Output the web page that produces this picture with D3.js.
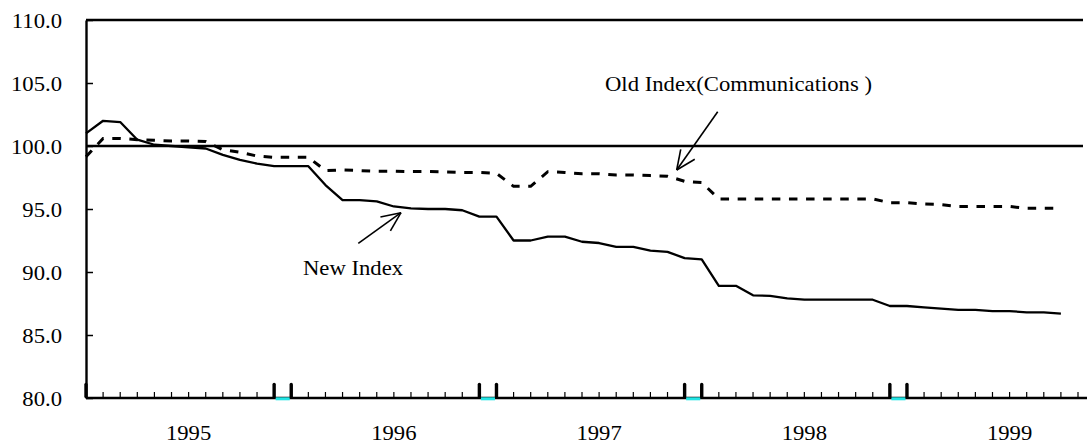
<!DOCTYPE html>
<html><head><meta charset="utf-8">
<script src="https://cdn.jsdelivr.net/npm/d3@7/dist/d3.min.js"></script>
<style>
html,body{margin:0;padding:0;background:#fff;}
svg{display:block;}
</style></head>
<body><svg id="c" width="1088" height="444"></svg>
<script>
// ---- data (monthly index values) ----
const newIndex = [101.0,102.0,101.9,100.5,100.1,100.0,99.9,99.8,99.3,98.9,98.6,98.4,98.4,98.4,96.9,95.7,95.7,95.6,95.2,95.05,95.0,95.0,94.9,94.4,94.4,92.5,92.5,92.8,92.8,92.4,92.3,92.0,92.0,91.7,91.6,91.1,91.0,88.9,88.9,88.15,88.1,87.9,87.8,87.8,87.8,87.8,87.8,87.3,87.3,87.2,87.1,87.0,87.0,86.9,86.9,86.8,86.8,86.7];
const oldIndex = [99.15,100.6,100.6,100.5,100.45,100.4,100.4,100.35,99.7,99.5,99.2,99.1,99.1,99.1,98.05,98.1,98.05,98.0,98.0,97.97,97.97,97.94,97.9,97.9,97.83,96.8,96.8,97.96,97.9,97.8,97.8,97.7,97.7,97.65,97.6,97.2,97.1,95.8,95.8,95.8,95.8,95.8,95.8,95.8,95.8,95.8,95.8,95.5,95.5,95.4,95.35,95.2,95.2,95.2,95.2,95.05,95.05,95.05];
const yearLabels = ["1995","1996","1997","1998","1999"];
const yTicks = [80,85,90,95,100,105,110];
const baseline = 100;
const seriesNames = ["New Index","Old Index(Communications )"];

const svg = d3.select("#c");
const nCat = 58; // category slots on the axis
const x = d3.scaleLinear().domain([0, nCat]).range([86, 1078]);
const y = d3.scaleLinear().domain([80, 110]).range([398, 20]);
const FS = 21, SX = 1.08;
const FONT = "'Liberation Serif', 'Times New Roman', Times, serif";

function label(g, px, py, txt, anchor){
  g.append("text").attr("transform",`translate(${px},${py}) scale(${SX},1)`)
   .attr("text-anchor",anchor).attr("font-family",FONT).attr("font-size",FS)
   .attr("fill","#000").text(txt);
}

// top border
svg.append("line").attr("x1",x(0)).attr("x2",1083).attr("y1",y(110)).attr("y2",y(110))
  .attr("stroke","#000").attr("stroke-width",2.4);

// y axis
const yAxis = svg.append("g").attr("transform",`translate(${x(0)},0)`)
  .call(d3.axisLeft(y).tickValues(yTicks).tickSizeInner(-7).tickSizeOuter(0).tickFormat(d3.format(".1f")));
yAxis.select(".domain").attr("stroke-width",2.4);
yAxis.selectAll(".tick line").attr("stroke-width",1.5);
yAxis.selectAll(".tick text").remove();
yTicks.forEach(v => label(svg, 62, y(v)+8, d3.format(".1f")(v), "end"));

// baseline 100
svg.append("line").attr("x1",x(0)).attr("x2",1083).attr("y1",y(baseline)).attr("y2",y(baseline))
  .attr("stroke","#000").attr("stroke-width",2.4);

// x axis
const xb = y(80);
svg.append("line").attr("x1",x(0)).attr("x2",1087).attr("y1",xb).attr("y2",xb)
  .attr("stroke","#000").attr("stroke-width",2.4);
const cats = d3.range(0, nCat+1);
const isThick = i => i===0 || (i>0 && (i%12===11 || i%12===0) && i<nCat);
cats.filter(i => i%12===11 && i<nCat).forEach(i => {
  svg.append("line").attr("x1",x(i)+1.5).attr("x2",x(i+1)-1.5).attr("y1",xb+0.8).attr("y2",xb+0.8)
    .attr("stroke","#22e5e5").attr("stroke-width",3);
});
cats.filter(i => i>0 && !isThick(i)).forEach(i => {
  svg.append("line").attr("x1",x(i)).attr("x2",x(i)).attr("y1",xb).attr("y2",xb-6)
    .attr("stroke","#000").attr("stroke-width",1.2);
});
cats.filter(isThick).forEach(i => {
  svg.append("line").attr("x1",x(i)).attr("x2",x(i)).attr("y1",xb-1.5).attr("y2",xb-13.5)
    .attr("stroke","#000").attr("stroke-width",3.4).attr("stroke-linecap","round");
});
yearLabels.forEach((t,k) => label(svg, x(6+12*k), 440, t, "middle"));

// series
const line = d3.line().x((d,i)=>x(i)).y(d=>y(d));
svg.append("path").datum(oldIndex).attr("d",line).attr("fill","none")
  .attr("stroke","#000").attr("stroke-width",3).attr("stroke-dasharray","8.5,8.6");
svg.append("path").datum(newIndex).attr("d",line).attr("fill","none")
  .attr("stroke","#000").attr("stroke-width",2.3).attr("stroke-linejoin","round");

// annotations
function arrow(x1,y1,x2,y2){
  svg.append("line").attr("x1",x1).attr("y1",y1).attr("x2",x2).attr("y2",y2)
    .attr("stroke","#000").attr("stroke-width",1.6);
  const a = Math.atan2(y2-y1,x2-x1), L=21, s=0.42;
  [a+Math.PI-s, a+Math.PI+s].forEach(b=>{
    svg.append("line").attr("x1",x2).attr("y1",y2)
      .attr("x2",x2+L*Math.cos(b)).attr("y2",y2+L*Math.sin(b))
      .attr("stroke","#000").attr("stroke-width",1.6);
  });
}
label(svg, 605, 91, seriesNames[1], "start");
arrow(717.7,111.7,676.7,170);
label(svg, 303, 275, seriesNames[0], "start");
arrow(358.3,243.3,401,212.7);
</script></body></html>
